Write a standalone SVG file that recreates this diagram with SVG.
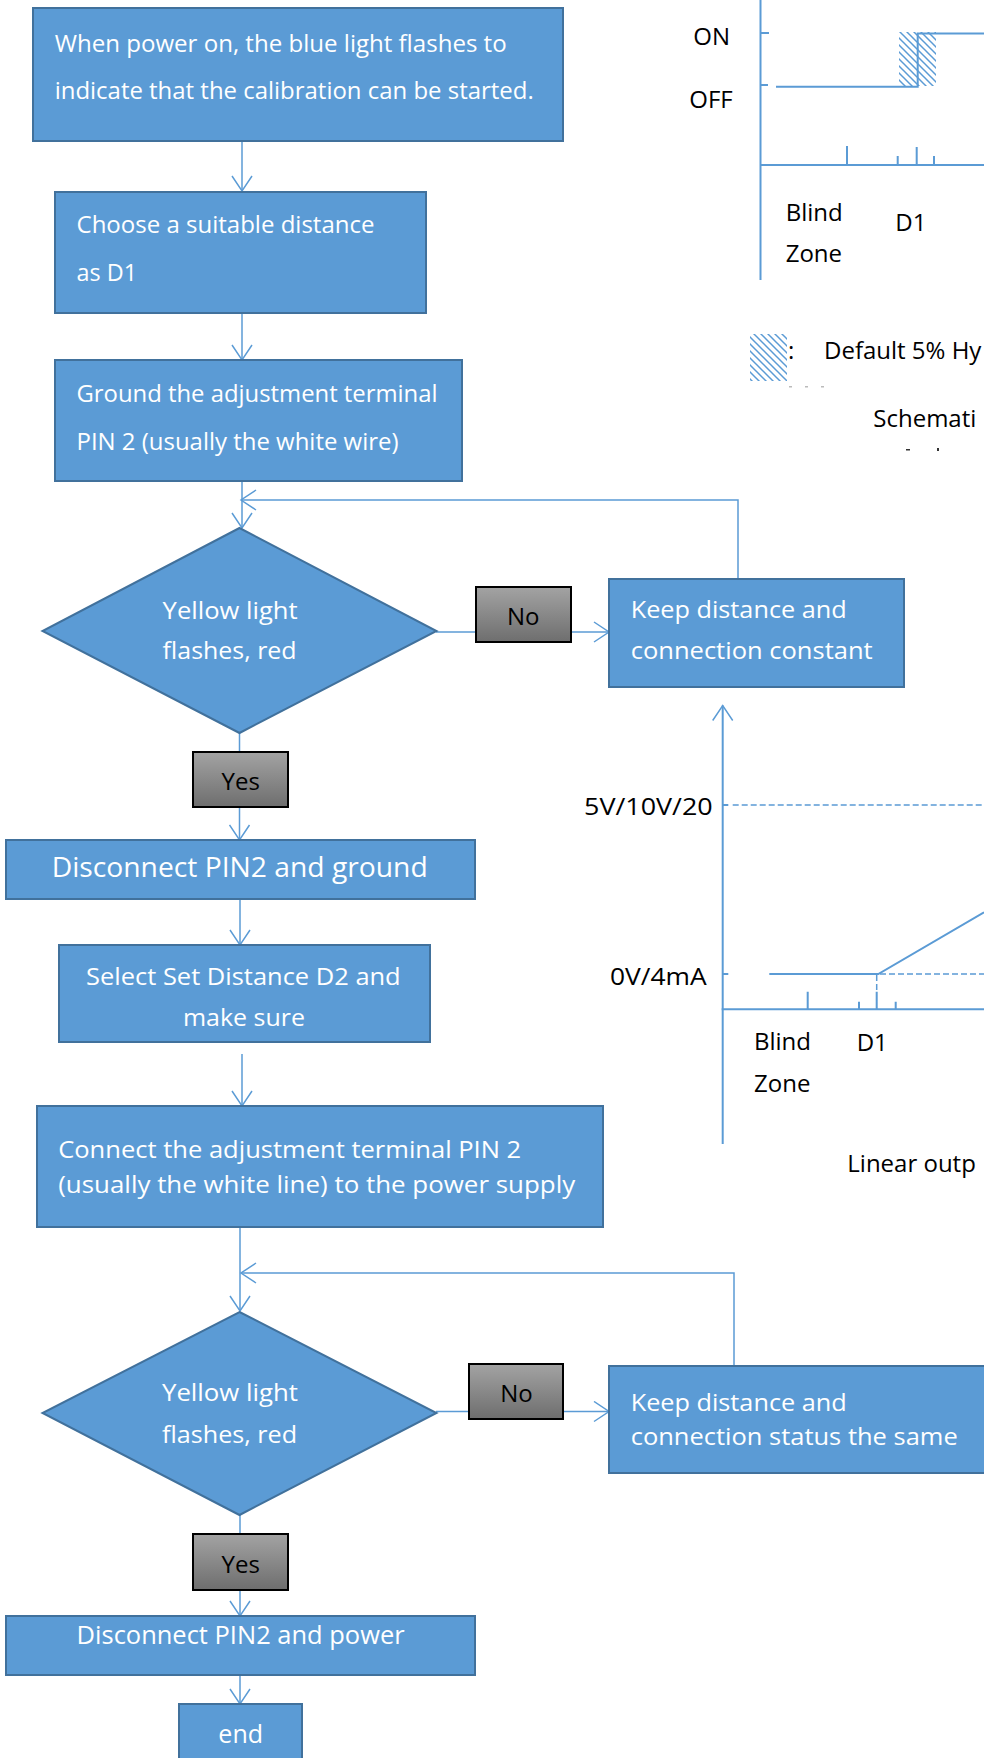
<svg xmlns="http://www.w3.org/2000/svg" width="984" height="1758" viewBox="0 0 984 1758">
  <defs>
    <style>
      .box { fill: #5B9BD5; stroke: #41719C; stroke-width: 2; }
      .tag { fill: url(#grayGrad); stroke: #000; stroke-width: 2; }
      .wt { fill: #FFFFFF; font-family: "Open Sans", "Noto Sans", sans-serif; font-size: 24px; }
      .bt { fill: #000000; font-family: "Open Sans", "Noto Sans", sans-serif; font-size: 24px; }
      .flow { fill: none; stroke: #5B9BD5; stroke-width: 1.5; }
      .axis { fill: none; stroke: #5B9BD5; stroke-width: 2; }
      .dash { fill: none; stroke: #5B9BD5; stroke-width: 1.5; stroke-dasharray: 6 3; }
    </style>
    <linearGradient id="grayGrad" x1="0" y1="0" x2="0" y2="1">
      <stop offset="0" stop-color="#A3A3A3"/>
      <stop offset="1" stop-color="#6E6E6E"/>
    </linearGradient>
    <pattern id="hatch" patternUnits="userSpaceOnUse" width="7" height="7">
      <path d="M0,0 L7,7 M-2,5 L2,9 M5,-2 L9,2" stroke="#5B9BD5" stroke-width="1.5"/>
    </pattern>
    <marker id="arrow" markerUnits="userSpaceOnUse" markerWidth="18" markerHeight="22" viewBox="0 0 18 22" refX="16" refY="11" orient="auto">
      <path d="M1,1 L16,11 L1,21" fill="none" stroke="#5B9BD5" stroke-width="1.5"/>
    </marker>
  </defs>

  <rect x="0" y="0" width="984" height="1758" fill="#FFFFFF"/>

  <!-- connectors -->
  <g id="connectors">
    <path class="flow" d="M242,141 V191" marker-end="url(#arrow)"/>
    <path class="flow" d="M242,313 V360" marker-end="url(#arrow)"/>
    <path class="flow" d="M242,481 V528" marker-end="url(#arrow)"/>
    <path class="flow" d="M738,579 V500 H241" marker-end="url(#arrow)"/>
    <path class="flow" d="M436,632 H609" marker-end="url(#arrow)"/>
    <path class="flow" d="M239.5,733 V840" marker-end="url(#arrow)"/>
    <path class="flow" d="M240,899 V945" marker-end="url(#arrow)"/>
    <path class="flow" d="M242,1054 V1106" marker-end="url(#arrow)"/>
    <path class="flow" d="M240,1227 V1311" marker-end="url(#arrow)"/>
    <path class="flow" d="M734,1366 V1273 H241" marker-end="url(#arrow)"/>
    <path class="flow" d="M436,1411.5 H609" marker-end="url(#arrow)"/>
    <path class="flow" d="M240,1515 V1616" marker-end="url(#arrow)"/>
    <path class="flow" d="M240,1675 V1704" marker-end="url(#arrow)"/>
  </g>

  <!-- flow nodes -->
  <g id="power-on">
    <rect class="box" x="33" y="8" width="530" height="133"/>
    <text class="wt" x="54.7" y="51.7" textLength="452" lengthAdjust="spacingAndGlyphs">When power on, the blue light flashes to</text>
    <text class="wt" x="54.7" y="99" textLength="479" lengthAdjust="spacingAndGlyphs">indicate that the calibration can be started.</text>
  </g>
  <g id="choose-d1">
    <rect class="box" x="55" y="192" width="371" height="121"/>
    <text class="wt" x="76.5" y="233" textLength="298" lengthAdjust="spacingAndGlyphs">Choose a suitable distance</text>
    <text class="wt" x="76.5" y="281" textLength="60.5" lengthAdjust="spacingAndGlyphs">as D1</text>
  </g>
  <g id="ground-pin2">
    <rect class="box" x="55" y="360" width="407" height="121"/>
    <text class="wt" x="76.5" y="401.7" textLength="361" lengthAdjust="spacingAndGlyphs">Ground the adjustment terminal</text>
    <text class="wt" x="76.5" y="450" textLength="322" lengthAdjust="spacingAndGlyphs">PIN 2 (usually the white wire)</text>
  </g>
  <g id="check-1">
    <polygon class="box" points="239.5,528 436.5,631 239.5,733 42.5,631"/>
    <text class="wt" x="162.6" y="619" textLength="135" lengthAdjust="spacingAndGlyphs">Yellow light</text>
    <text class="wt" x="162.6" y="659.3" textLength="134" lengthAdjust="spacingAndGlyphs">flashes, red</text>
  </g>
  <g id="no-1">
    <rect class="tag" x="476" y="587" width="95" height="55"/>
    <text class="bt" x="523.3" y="625" text-anchor="middle">No</text>
  </g>
  <g id="keep-1">
    <rect class="box" x="609" y="579" width="295" height="108"/>
    <text class="wt" x="630.7" y="618.3" textLength="216" lengthAdjust="spacingAndGlyphs">Keep distance and</text>
    <text class="wt" x="630.7" y="659.3" textLength="242" lengthAdjust="spacingAndGlyphs">connection constant</text>
  </g>
  <g id="yes-1">
    <rect class="tag" x="193" y="752" width="95" height="55"/>
    <text class="bt" x="240.7" y="790" text-anchor="middle">Yes</text>
  </g>
  <g id="disconnect-ground">
    <rect class="box" x="6" y="840" width="469" height="59"/>
    <text class="wt" x="51.7" y="876.7" style="font-size:28px" textLength="376" lengthAdjust="spacingAndGlyphs">Disconnect PIN2 and ground</text>
  </g>
  <g id="select-d2">
    <rect class="box" x="59" y="945" width="371" height="97"/>
    <text class="wt" x="86.1" y="985" textLength="314.6" lengthAdjust="spacingAndGlyphs">Select Set Distance D2 and</text>
    <text class="wt" x="183" y="1026" textLength="122" lengthAdjust="spacingAndGlyphs">make sure</text>
  </g>
  <g id="connect-power">
    <rect class="box" x="37" y="1106" width="566" height="121"/>
    <text class="wt" x="58.2" y="1158.3" textLength="463" lengthAdjust="spacingAndGlyphs">Connect the adjustment terminal PIN 2</text>
    <text class="wt" x="58.2" y="1193.3" textLength="517" lengthAdjust="spacingAndGlyphs">(usually the white line) to the power supply</text>
  </g>
  <g id="check-2">
    <polygon class="box" points="239.5,1312 436.5,1413 239.5,1515 42.5,1413"/>
    <text class="wt" x="162" y="1401" textLength="136" lengthAdjust="spacingAndGlyphs">Yellow light</text>
    <text class="wt" x="162" y="1442.7" textLength="135" lengthAdjust="spacingAndGlyphs">flashes, red</text>
  </g>
  <g id="no-2">
    <rect class="tag" x="469" y="1364" width="94" height="55"/>
    <text class="bt" x="516.5" y="1401.7" text-anchor="middle">No</text>
  </g>
  <g id="keep-2">
    <rect class="box" x="609" y="1366" width="390" height="107"/>
    <text class="wt" x="630.7" y="1410.7" textLength="216" lengthAdjust="spacingAndGlyphs">Keep distance and</text>
    <text class="wt" x="630.7" y="1445" textLength="327" lengthAdjust="spacingAndGlyphs">connection status the same</text>
  </g>
  <g id="yes-2">
    <rect class="tag" x="193" y="1534" width="95" height="56"/>
    <text class="bt" x="240.7" y="1572.7" text-anchor="middle">Yes</text>
  </g>
  <g id="disconnect-power">
    <rect class="box" x="6" y="1616" width="469" height="59"/>
    <text class="wt" x="76.6" y="1644.3" style="font-size:25px" textLength="328" lengthAdjust="spacingAndGlyphs">Disconnect PIN2 and power</text>
  </g>
  <g id="end">
    <rect class="box" x="179" y="1704" width="123" height="70"/>
    <text class="wt" x="240.7" y="1743.3" text-anchor="middle" style="font-size:25px">end</text>
  </g>

  <!-- switching output chart -->
  <g id="switch-chart">
    <rect x="899" y="32" width="37" height="54" fill="url(#hatch)"/>
    <path class="axis" d="M760.5,0 V280"/>
    <path class="axis" d="M760,33 H769 M760,85 H768"/>
    <path class="axis" d="M776,86.7 H917.7 V32.5 M917.7,33.5 H984"/>
    <path class="axis" d="M760,165 H984"/>
    <path class="axis" d="M847,146 V165 M897.7,156 V165 M916.7,147 V165 M934,156 V165"/>
    <text class="bt" x="693.3" y="45">ON</text>
    <text class="bt" x="689.3" y="108.3">OFF</text>
    <text class="bt" x="785.7" y="220.7">Blind</text>
    <text class="bt" x="785.7" y="261.7">Zone</text>
    <text class="bt" x="895.3" y="231">D1</text>
  </g>

  <!-- hysteresis legend -->
  <g id="legend">
    <rect x="750" y="334" width="37" height="47" fill="url(#hatch)"/>
    <text class="bt" x="788" y="359">:</text>
    <text class="bt" x="824" y="359.3">Default 5% Hy</text>
    <g fill="#BBBBBB">
      <rect x="789" y="386" width="3" height="1.5"/>
      <rect x="805" y="386" width="3" height="1.5"/>
      <rect x="821" y="386" width="3" height="1.5"/>
    </g>
    <text class="bt" x="873.3" y="426.7">Schemati</text>
    <g fill="#333333">
      <rect x="906" y="449" width="4" height="1.5"/>
      <rect x="937" y="448" width="2" height="3"/>
    </g>
  </g>

  <!-- linear output chart -->
  <g id="linear-chart">
    <path class="axis" d="M722.7,1144 V705.5" marker-end="url(#arrow)"/>
    <path class="axis" d="M722.7,805 H728.3 M722.7,974 H728.3"/>
    <path class="dash" d="M732.7,805 H984"/>
    <path class="axis" d="M769.3,974 H878.3 L984,912.3"/>
    <path class="dash" d="M880,974 H984"/>
    <path class="dash" d="M876.7,975 V992"/>
    <path class="axis" d="M721.7,1009.3 H984"/>
    <path class="axis" d="M807.7,991.7 V1009 M859,1001.7 V1009 M876.7,991.7 V1009 M895.7,1001.7 V1009"/>
    <text class="bt" x="584" y="815" textLength="128.7" lengthAdjust="spacingAndGlyphs">5V/10V/20</text>
    <text class="bt" x="610" y="985" textLength="96.7" lengthAdjust="spacingAndGlyphs">0V/4mA</text>
    <text class="bt" x="754" y="1050">Blind</text>
    <text class="bt" x="754" y="1091.7">Zone</text>
    <text class="bt" x="856.7" y="1051">D1</text>
    <text class="bt" x="847.3" y="1171.7">Linear outp</text>
  </g>
</svg>
